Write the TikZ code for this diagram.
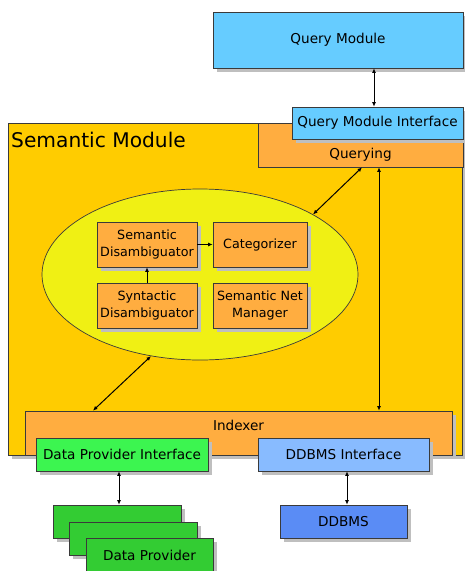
\documentclass[tikz,border=0pt]{standalone}
\usepackage{fontspec}
\setmainfont{DejaVu Sans}
\usetikzlibrary{shapes.geometric,arrows.meta,shadows,calc}
\definecolor{qblue}{HTML}{66CCFF}
\definecolor{semyel}{HTML}{FFCC00}
\definecolor{orng}{HTML}{FFAD40}
\definecolor{ellyel}{HTML}{F0F014}
\definecolor{dpigreen}{HTML}{3CF550}
\definecolor{dpgreen}{HTML}{33CC33}
\definecolor{dbiblue}{HTML}{88BBFF}
\definecolor{dbblue}{HTML}{5A8CF5}
\definecolor{edge}{HTML}{3A3A3A}
\tikzset{
  box/.style={draw=edge,line width=0.7pt,rectangle,inner sep=0pt,align=center,font=\fontsize{13.6}{16}\selectfont},
  inbox/.style={box,font=\fontsize{12.7}{16.5}\selectfont},
  shad/.style={drop shadow={shadow xshift=4pt,shadow yshift=-4pt,fill=black!25,opacity=1}},
  conn/.style={line width=1pt,{Latex[length=4.5pt,width=4pt]}-{Latex[length=4.5pt,width=4pt]}},
  oneway/.style={line width=1pt,-{Latex[length=4.5pt,width=4pt]}}
}
\begin{document}
\begin{tikzpicture}[x=1pt,y=-1pt]
\useasboundingbox[fill=white] (0,0) rectangle (465,571);
\clip (0,0) rectangle (465,571);
% Query module
\node[box,shad,fill=qblue,minimum width=250pt,minimum height=56pt] (qm) at (338,40) {Query Module};
% Semantic module
\node[box,shad,fill=semyel,minimum width=454pt,minimum height=332pt] (sm) at (235,289) {};
\node[anchor=west,inner sep=0pt,font=\fontsize{20.2}{24}\selectfont] (smtitle) at (11,140) {Semantic Module};
\node[box,fill=orng,minimum width=205pt,minimum height=44pt] (querying) at (360.5,145) {};
\node[inner sep=0pt,font=\fontsize{13.6}{16}\selectfont] (qtext) at (360.5,155) {Querying};
\node[box,shad,fill=qblue,minimum width=171pt,minimum height=32pt] (qmi) at (377.5,123) {Query Module Interface};
% ellipse
\node[draw=edge,line width=0.7pt,ellipse,fill=ellyel,minimum width=316pt,minimum height=171pt,inner sep=0pt] (ell) at (200,274.5) {};
\node[inbox,shad,fill=orng,minimum width=100pt,minimum height=45pt] (semdis) at (147,244.5) {Semantic\\Disambiguator};
\node[inbox,shad,fill=orng,minimum width=94pt,minimum height=45pt] (cat) at (260,244.5) {Categorizer};
\node[inbox,shad,fill=orng,minimum width=100pt,minimum height=45pt] (syndis) at (147,305.5) {Syntactic\\Disambiguator};
\node[inbox,shad,fill=orng,minimum width=94pt,minimum height=45pt] (snm) at (260,305.5) {Semantic Net\\Manager};
% indexer
\node[box,shad,fill=orng,minimum width=427pt,minimum height=44pt] (indexer) at (238.5,433) {};
\node[inner sep=0pt,font=\fontsize{13.6}{16}\selectfont] (itext) at (238.5,425) {Indexer};
\node[box,shad,fill=dpigreen,minimum width=172pt,minimum height=33pt] (dpi) at (122,454.5) {Data Provider Interface};
\node[box,shad,fill=dbiblue,minimum width=171pt,minimum height=33pt] (dbi) at (343.5,454.5) {DDBMS Interface};
% bottom
\node[box,shad,fill=dbblue,minimum width=127pt,minimum height=33pt] (db) at (343.5,521.5) {DDBMS};
\node[box,shad,fill=dpgreen,minimum width=128pt,minimum height=33pt] (dp1) at (117,521.5) {};
\node[box,shad,fill=dpgreen,minimum width=128pt,minimum height=33pt] (dp2) at (133,538.5) {};
\node[box,shad,fill=dpgreen,minimum width=127pt,minimum height=34pt] (dp3) at (149.5,555) {Data Provider};
% connectors
\draw[conn] ([xshift=36pt]qm.south) -- ([xshift=-3.5pt]qmi.north);
\draw[conn] ([xshift=1.5pt]querying.south) -- (ell.28);
\draw[conn] ([xshift=18.5pt]querying.south) -- ([xshift=140.5pt]indexer.north);
\draw[conn] (ell.239) -- ([xshift=-145.5pt]indexer.north);
\draw[oneway] (semdis.east) -- (cat.west);
\draw[oneway] (syndis.north) -- (semdis.south);
\draw[conn] ([xshift=-3pt]dpi.south) -- ([xshift=2pt]dp1.north);
\draw[conn] ([xshift=3.5pt]dbi.south) -- ([xshift=3.5pt]db.north);
\end{tikzpicture}
\end{document}
